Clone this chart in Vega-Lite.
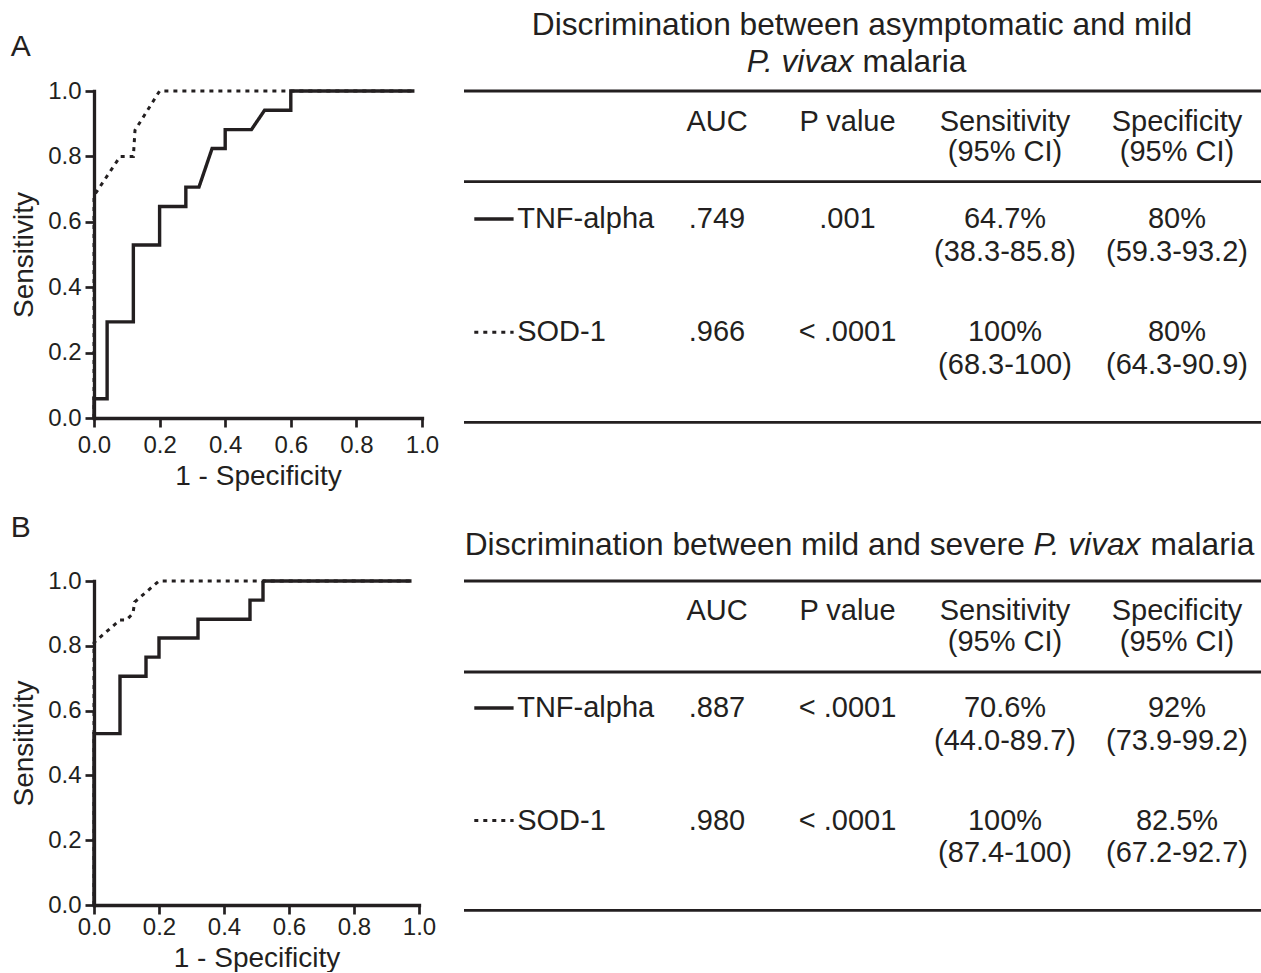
{
  "$schema": "https://vega.github.io/schema/vega-lite/v6.json",
  "background": "white",
  "padding": {"left": 10, "top": 9, "right": 0, "bottom": 0},
  "datasets": {
    "rocA": [
      {"marker": "TNF-alpha", "step": 1, "fpr": 0, "tpr": 0},
      {"marker": "TNF-alpha", "step": 2, "fpr": 0, "tpr": 0.059},
      {"marker": "TNF-alpha", "step": 3, "fpr": 0.04, "tpr": 0.059},
      {"marker": "TNF-alpha", "step": 4, "fpr": 0.04, "tpr": 0.294},
      {"marker": "TNF-alpha", "step": 5, "fpr": 0.12, "tpr": 0.294},
      {"marker": "TNF-alpha", "step": 6, "fpr": 0.12, "tpr": 0.529},
      {"marker": "TNF-alpha", "step": 7, "fpr": 0.2, "tpr": 0.529},
      {"marker": "TNF-alpha", "step": 8, "fpr": 0.2, "tpr": 0.647},
      {"marker": "TNF-alpha", "step": 9, "fpr": 0.28, "tpr": 0.647},
      {"marker": "TNF-alpha", "step": 10, "fpr": 0.28, "tpr": 0.706},
      {"marker": "TNF-alpha", "step": 11, "fpr": 0.32, "tpr": 0.706},
      {"marker": "TNF-alpha", "step": 12, "fpr": 0.36, "tpr": 0.824},
      {"marker": "TNF-alpha", "step": 13, "fpr": 0.4, "tpr": 0.824},
      {"marker": "TNF-alpha", "step": 14, "fpr": 0.4, "tpr": 0.882},
      {"marker": "TNF-alpha", "step": 15, "fpr": 0.48, "tpr": 0.882},
      {"marker": "TNF-alpha", "step": 16, "fpr": 0.52, "tpr": 0.941},
      {"marker": "TNF-alpha", "step": 17, "fpr": 0.6, "tpr": 0.941},
      {"marker": "TNF-alpha", "step": 18, "fpr": 0.6, "tpr": 1.0},
      {"marker": "TNF-alpha", "step": 19, "fpr": 0.977, "tpr": 1.0},
      {"marker": "SOD-1", "step": 1, "fpr": 0, "tpr": 0},
      {"marker": "SOD-1", "step": 2, "fpr": 0, "tpr": 0.68},
      {"marker": "SOD-1", "step": 3, "fpr": 0.08, "tpr": 0.8},
      {"marker": "SOD-1", "step": 4, "fpr": 0.12, "tpr": 0.8},
      {"marker": "SOD-1", "step": 5, "fpr": 0.125, "tpr": 0.88},
      {"marker": "SOD-1", "step": 6, "fpr": 0.2, "tpr": 1.0},
      {"marker": "SOD-1", "step": 7, "fpr": 0.977, "tpr": 1.0}
    ],
    "rocB": [
      {"marker": "TNF-alpha", "step": 1, "fpr": 0, "tpr": 0},
      {"marker": "TNF-alpha", "step": 2, "fpr": 0, "tpr": 0.529},
      {"marker": "TNF-alpha", "step": 3, "fpr": 0.08, "tpr": 0.529},
      {"marker": "TNF-alpha", "step": 4, "fpr": 0.08, "tpr": 0.706},
      {"marker": "TNF-alpha", "step": 5, "fpr": 0.16, "tpr": 0.706},
      {"marker": "TNF-alpha", "step": 6, "fpr": 0.16, "tpr": 0.765},
      {"marker": "TNF-alpha", "step": 7, "fpr": 0.2, "tpr": 0.765},
      {"marker": "TNF-alpha", "step": 8, "fpr": 0.2, "tpr": 0.824},
      {"marker": "TNF-alpha", "step": 9, "fpr": 0.32, "tpr": 0.824},
      {"marker": "TNF-alpha", "step": 10, "fpr": 0.32, "tpr": 0.882},
      {"marker": "TNF-alpha", "step": 11, "fpr": 0.48, "tpr": 0.882},
      {"marker": "TNF-alpha", "step": 12, "fpr": 0.48, "tpr": 0.941},
      {"marker": "TNF-alpha", "step": 13, "fpr": 0.52, "tpr": 0.941},
      {"marker": "TNF-alpha", "step": 14, "fpr": 0.52, "tpr": 1.0},
      {"marker": "TNF-alpha", "step": 15, "fpr": 0.977, "tpr": 1.0},
      {"marker": "SOD-1", "step": 1, "fpr": 0, "tpr": 0},
      {"marker": "SOD-1", "step": 2, "fpr": 0, "tpr": 0.81},
      {"marker": "SOD-1", "step": 3, "fpr": 0.08, "tpr": 0.88},
      {"marker": "SOD-1", "step": 4, "fpr": 0.1, "tpr": 0.88},
      {"marker": "SOD-1", "step": 5, "fpr": 0.12, "tpr": 0.9},
      {"marker": "SOD-1", "step": 6, "fpr": 0.125, "tpr": 0.935},
      {"marker": "SOD-1", "step": 7, "fpr": 0.2, "tpr": 1.0},
      {"marker": "SOD-1", "step": 8, "fpr": 0.977, "tpr": 1.0}
    ],
    "tableA": [
      {"kind": "rule", "row": 2, "col": 0, "colEnd": 9},
      {"kind": "rule", "row": 4, "col": 0, "colEnd": 9},
      {"kind": "rule", "row": 7, "col": 0, "colEnd": 9},
      {"kind": "sample", "marker": "TNF-alpha", "row": 5, "col": 1, "colEnd": 2},
      {"kind": "sample", "marker": "SOD-1", "row": 6, "col": 1, "colEnd": 2},
      {"kind": "label", "row": 5, "col": 3, "text": "TNF-alpha"},
      {"kind": "label", "row": 6, "col": 3, "text": "SOD-1"},
      {"kind": "header", "row": 3, "col": 4, "text": "AUC"},
      {"kind": "header", "row": 3, "col": 5, "text": "P value"},
      {"kind": "header", "row": 3, "col": 7, "text": "Sensitivity\n(95% CI)"},
      {"kind": "header", "row": 3, "col": 8, "text": "Specificity\n(95% CI)"},
      {"kind": "cell", "row": 5, "col": 4, "text": ".749"},
      {"kind": "cell", "row": 5, "col": 5, "text": ".001"},
      {"kind": "cell", "row": 5, "col": 7, "text": "64.7%\n(38.3-85.8)"},
      {"kind": "cell", "row": 5, "col": 8, "text": "80%\n(59.3-93.2)"},
      {"kind": "cell", "row": 6, "col": 4, "text": ".966"},
      {"kind": "cell", "row": 6, "col": 5, "text": "< .0001"},
      {"kind": "cell", "row": 6, "col": 7, "text": "100%\n(68.3-100)"},
      {"kind": "cell", "row": 6, "col": 8, "text": "80%\n(64.3-90.9)"},
      {"kind": "title", "row": 0, "col": 6, "text": "Discrimination between asymptomatic and mild"},
      {"kind": "titleItalic", "row": 1, "col": 6, "text": "P. vivax"},
      {"kind": "titleTail", "row": 1, "col": 6, "text": "malaria"}
    ],
    "tableB": [
      {"kind": "rule", "row": 2, "col": 0, "colEnd": 9},
      {"kind": "rule", "row": 4, "col": 0, "colEnd": 9},
      {"kind": "rule", "row": 7, "col": 0, "colEnd": 9},
      {"kind": "sample", "marker": "TNF-alpha", "row": 5, "col": 1, "colEnd": 2},
      {"kind": "sample", "marker": "SOD-1", "row": 6, "col": 1, "colEnd": 2},
      {"kind": "label", "row": 5, "col": 3, "text": "TNF-alpha"},
      {"kind": "label", "row": 6, "col": 3, "text": "SOD-1"},
      {"kind": "header", "row": 3, "col": 4, "text": "AUC"},
      {"kind": "header", "row": 3, "col": 5, "text": "P value"},
      {"kind": "header", "row": 3, "col": 7, "text": "Sensitivity\n(95% CI)"},
      {"kind": "header", "row": 3, "col": 8, "text": "Specificity\n(95% CI)"},
      {"kind": "cell", "row": 5, "col": 4, "text": ".887"},
      {"kind": "cell", "row": 5, "col": 5, "text": "< .0001"},
      {"kind": "cell", "row": 5, "col": 7, "text": "70.6%\n(44.0-89.7)"},
      {"kind": "cell", "row": 5, "col": 8, "text": "92%\n(73.9-99.2)"},
      {"kind": "cell", "row": 6, "col": 4, "text": ".980"},
      {"kind": "cell", "row": 6, "col": 5, "text": "< .0001"},
      {"kind": "cell", "row": 6, "col": 7, "text": "100%\n(87.4-100)"},
      {"kind": "cell", "row": 6, "col": 8, "text": "82.5%\n(67.2-92.7)"},
      {"kind": "titleHead", "row": 1, "col": 6, "text": "Discrimination between mild and severe"},
      {"kind": "titleItalic", "row": 1, "col": 6, "text": "P. vivax"},
      {"kind": "titleTail", "row": 1, "col": 6, "text": "malaria"}
    ]
  },
  "spacing": 23,
  "vconcat": [
    {
      "spacing": 23,
      "hconcat": [
        {
          "width": 328,
          "height": 327,
          "title": {"text": "A", "anchor": "start", "frame": "bounds", "fontSize": 30, "fontWeight": "normal", "baseline": "alphabetic", "offset": -7, "color": "#231f20", "font": "Liberation Sans"},
          "data": {"name": "rocA"},
          "mark": {"type": "line", "color": "#231f20", "strokeCap": "butt", "strokeJoin": "miter"},
          "encoding": {
            "x": {"field": "fpr", "type": "quantitative", "scale": {"domain": [0, 1], "nice": false, "zero": false}, "axis": {"title": "1 - Specificity", "values": [0, 0.2, 0.4, 0.6, 0.8, 1], "format": ".1f"}},
            "y": {"field": "tpr", "type": "quantitative", "scale": {"domain": [0, 1], "nice": false, "zero": false}, "axis": {"title": "Sensitivity", "values": [0, 0.2, 0.4, 0.6, 0.8, 1], "format": ".1f"}},
            "detail": {"field": "marker", "type": "nominal"},
            "order": {"field": "step", "type": "quantitative"},
            "strokeDash": {"field": "marker", "type": "nominal", "scale": {"domain": ["TNF-alpha", "SOD-1"], "range": [[1, 0], [4, 5]]}, "legend": null},
            "strokeWidth": {"field": "marker", "type": "nominal", "scale": {"domain": ["TNF-alpha", "SOD-1"], "range": [3.4, 3]}, "legend": null}
          }
        },
        {
          "width": 797,
          "height": 331,
          "data": {"name": "tableA"},
          "encoding": {
            "x": {"field": "col", "type": "quantitative", "scale": {"domain": [0, 1, 2, 3, 4, 5, 6, 7, 8, 9], "range": [0, 10.3, 49.6, 53.2, 253, 383.5, 398, 541, 713, 797], "zero": false, "nice": false}, "axis": null},
            "y": {"field": "row", "type": "quantitative", "scale": {"domain": [0, 1, 2, 3, 4, 5, 6, 7], "range": [-56.2, -19.2, 0, 39.6, 90.6, 137, 250.3, 331.3], "zero": false, "nice": false}, "axis": null}
          },
          "layer": [
            {"transform": [{"filter": "datum.kind === 'rule'"}], "mark": {"type": "rule", "color": "#231f20", "strokeWidth": 2.8}, "encoding": {"x2": {"field": "colEnd"}}},
            {"transform": [{"filter": "datum.kind === 'sample'"}], "mark": {"type": "rule", "color": "#231f20", "yOffset": -9, "strokeCap": "butt"}, "encoding": {"x2": {"field": "colEnd"},
              "strokeDash": {"field": "marker", "type": "nominal", "scale": {"domain": ["TNF-alpha", "SOD-1"], "range": [[1, 0], [6, 3]]}, "legend": null},
              "strokeWidth": {"field": "marker", "type": "nominal", "scale": {"domain": ["TNF-alpha", "SOD-1"], "range": [3.4, 3]}, "legend": null}}},
            {"transform": [{"filter": "datum.kind === 'label'"}], "mark": {"type": "text", "align": "left", "baseline": "alphabetic", "fontSize": 29, "font": "Liberation Sans", "color": "#231f20"}, "encoding": {"text": {"field": "text", "type": "nominal"}}},
            {"transform": [{"filter": "datum.kind === 'header'"}], "mark": {"type": "text", "align": "center", "baseline": "alphabetic", "fontSize": 29, "font": "Liberation Sans", "color": "#231f20", "lineBreak": "\n", "lineHeight": 30.5}, "encoding": {"text": {"field": "text", "type": "nominal"}}},
            {"transform": [{"filter": "datum.kind === 'cell'"}], "mark": {"type": "text", "align": "center", "baseline": "alphabetic", "fontSize": 29, "font": "Liberation Sans", "color": "#231f20", "lineBreak": "\n", "lineHeight": 32.5}, "encoding": {"text": {"field": "text", "type": "nominal"}}},
            {"transform": [{"filter": "datum.kind === 'title'"}], "mark": {"type": "text", "align": "center", "baseline": "alphabetic", "fontSize": 31.7, "font": "Liberation Sans", "color": "#231f20"}, "encoding": {"text": {"field": "text", "type": "nominal"}}},
            {"transform": [{"filter": "datum.kind === 'titleItalic'"}], "mark": {"type": "text", "align": "right", "dx": -8.3, "baseline": "alphabetic", "fontSize": 31.7, "fontStyle": "italic", "font": "Liberation Sans", "color": "#231f20"}, "encoding": {"text": {"field": "text", "type": "nominal"}}},
            {"transform": [{"filter": "datum.kind === 'titleTail'"}], "mark": {"type": "text", "align": "left", "dx": 0.5, "baseline": "alphabetic", "fontSize": 31.7, "font": "Liberation Sans", "color": "#231f20"}, "encoding": {"text": {"field": "text", "type": "nominal"}}}
          ]
        }
      ]
    },
    {
      "spacing": 26,
      "hconcat": [
        {
          "width": 325,
          "height": 324,
          "title": {"text": "B", "anchor": "start", "frame": "bounds", "fontSize": 30, "fontWeight": "normal", "baseline": "alphabetic", "offset": 2, "color": "#231f20", "font": "Liberation Sans"},
          "data": {"name": "rocB"},
          "mark": {"type": "line", "color": "#231f20", "strokeCap": "butt", "strokeJoin": "miter"},
          "encoding": {
            "x": {"field": "fpr", "type": "quantitative", "scale": {"domain": [0, 1], "nice": false, "zero": false}, "axis": {"title": "1 - Specificity", "values": [0, 0.2, 0.4, 0.6, 0.8, 1], "format": ".1f", "labelPadding": 1, "titlePadding": 5}},
            "y": {"field": "tpr", "type": "quantitative", "scale": {"domain": [0, 1], "nice": false, "zero": false}, "axis": {"title": "Sensitivity", "values": [0, 0.2, 0.4, 0.6, 0.8, 1], "format": ".1f"}},
            "detail": {"field": "marker", "type": "nominal"},
            "order": {"field": "step", "type": "quantitative"},
            "strokeDash": {"field": "marker", "type": "nominal", "scale": {"domain": ["TNF-alpha", "SOD-1"], "range": [[1, 0], [4, 5]]}, "legend": null},
            "strokeWidth": {"field": "marker", "type": "nominal", "scale": {"domain": ["TNF-alpha", "SOD-1"], "range": [3.4, 3]}, "legend": null}
          }
        },
        {
          "width": 797,
          "height": 329,
          "data": {"name": "tableB"},
          "encoding": {
            "x": {"field": "col", "type": "quantitative", "scale": {"domain": [0, 1, 2, 3, 4, 5, 6, 7, 8, 9], "range": [0, 10.3, 49.6, 53.2, 253, 383.5, 398, 541, 713, 797], "zero": false, "nice": false}, "axis": null},
            "y": {"field": "row", "type": "quantitative", "scale": {"domain": [0, 1, 2, 3, 4, 5, 6, 7], "range": [-57, -25.7, 0, 39.3, 91, 136, 248.6, 329.3], "zero": false, "nice": false}, "axis": null}
          },
          "layer": [
            {"transform": [{"filter": "datum.kind === 'rule'"}], "mark": {"type": "rule", "color": "#231f20", "strokeWidth": 2.8}, "encoding": {"x2": {"field": "colEnd"}}},
            {"transform": [{"filter": "datum.kind === 'sample'"}], "mark": {"type": "rule", "color": "#231f20", "yOffset": -9, "strokeCap": "butt"}, "encoding": {"x2": {"field": "colEnd"},
              "strokeDash": {"field": "marker", "type": "nominal", "scale": {"domain": ["TNF-alpha", "SOD-1"], "range": [[1, 0], [6, 3]]}, "legend": null},
              "strokeWidth": {"field": "marker", "type": "nominal", "scale": {"domain": ["TNF-alpha", "SOD-1"], "range": [3.4, 3]}, "legend": null}}},
            {"transform": [{"filter": "datum.kind === 'label'"}], "mark": {"type": "text", "align": "left", "baseline": "alphabetic", "fontSize": 29, "font": "Liberation Sans", "color": "#231f20"}, "encoding": {"text": {"field": "text", "type": "nominal"}}},
            {"transform": [{"filter": "datum.kind === 'header'"}], "mark": {"type": "text", "align": "center", "baseline": "alphabetic", "fontSize": 29, "font": "Liberation Sans", "color": "#231f20", "lineBreak": "\n", "lineHeight": 30.5}, "encoding": {"text": {"field": "text", "type": "nominal"}}},
            {"transform": [{"filter": "datum.kind === 'cell'"}], "mark": {"type": "text", "align": "center", "baseline": "alphabetic", "fontSize": 29, "font": "Liberation Sans", "color": "#231f20", "lineBreak": "\n", "lineHeight": 32.5}, "encoding": {"text": {"field": "text", "type": "nominal"}}},
            {"transform": [{"filter": "datum.kind === 'titleHead'"}], "mark": {"type": "text", "align": "right", "dx": 162.8, "baseline": "alphabetic", "fontSize": 31.7, "font": "Liberation Sans", "color": "#231f20"}, "encoding": {"text": {"field": "text", "type": "nominal"}}},
            {"transform": [{"filter": "datum.kind === 'titleItalic'"}], "mark": {"type": "text", "align": "left", "dx": 171.6, "baseline": "alphabetic", "fontSize": 31.7, "fontStyle": "italic", "font": "Liberation Sans", "color": "#231f20"}, "encoding": {"text": {"field": "text", "type": "nominal"}}},
            {"transform": [{"filter": "datum.kind === 'titleTail'"}], "mark": {"type": "text", "align": "left", "dx": 288.5, "baseline": "alphabetic", "fontSize": 31.7, "font": "Liberation Sans", "color": "#231f20"}, "encoding": {"text": {"field": "text", "type": "nominal"}}}
          ]
        }
      ]
    }
  ],
  "config": {
    "view": {"stroke": null},
    "font": "Liberation Sans",
    "axis": {
      "grid": false,
      "domainColor": "#231f20",
      "domainWidth": 3.3,
      "domainCap": "square",
      "tickColor": "#231f20",
      "tickWidth": 2.7,
      "tickSize": 9,
      "labelFont": "Liberation Sans",
      "labelFontSize": 24,
      "labelColor": "#231f20",
      "labelFlush": false,
      "labelOverlap": false,
      "titleFont": "Liberation Sans",
      "titleFontSize": 28,
      "titleFontWeight": "normal",
      "titleColor": "#231f20"
    },
    "axisX": {"labelPadding": 6, "titlePadding": 5},
    "axisY": {"labelPadding": 4, "titlePadding": 9}
  }
}
